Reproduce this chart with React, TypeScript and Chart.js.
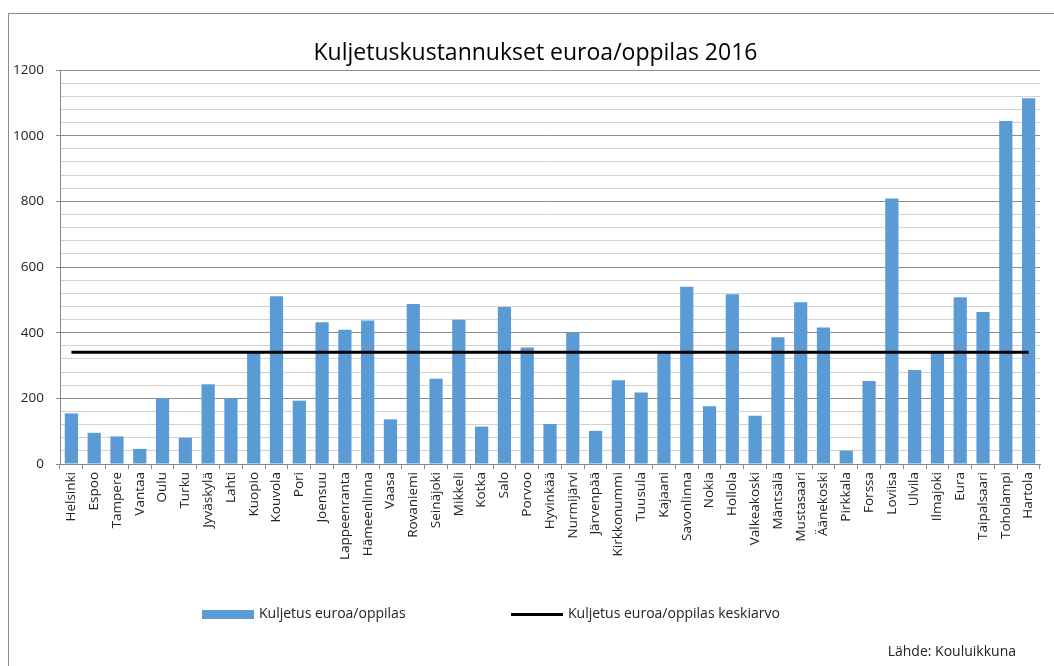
import React, { useEffect, useRef } from "react";
import { Chart, registerables } from "chart.js";

Chart.register(...registerables);

const categories: string[] = [
  "Helsinki", "Espoo", "Tampere", "Vantaa", "Oulu", "Turku", "Jyväskylä", "Lahti", "Kuopio", "Kouvola",
  "Pori", "Joensuu", "Lappeenranta", "Hämeenlinna", "Vaasa", "Rovaniemi", "Seinäjoki", "Mikkeli", "Kotka", "Salo",
  "Porvoo", "Hyvinkää", "Nurmijärvi", "Järvenpää", "Kirkkonummi", "Tuusula", "Kajaani", "Savonlinna", "Nokia", "Hollola",
  "Valkeakoski", "Mäntsälä", "Mustasaari", "Äänekoski", "Pirkkala", "Forssa", "Loviisa", "Ulvila", "Ilmajoki", "Eura",
  "Taipalsaari", "Toholampi", "Hartola",
];

const costPerPupil: number[] = [
  154, 95, 84, 46, 200, 80, 243, 200, 340, 511,
  193, 432, 409, 437, 136, 487, 260, 439, 114, 478,
  355, 122, 399, 101, 255, 218, 340, 540, 176, 517,
  147, 386, 493, 416, 41, 253, 809, 286, 340, 508,
  463, 1045, 1114,
];

const averageValue = 340;
const averageSeries: number[] = categories.map(() => averageValue);

const titleText = "Kuljetuskustannukset euroa/oppilas 2016";
const barLabel = "Kuljetus euroa/oppilas";
const lineLabel = "Kuljetus euroa/oppilas keskiarvo";
const sourceText = "Lähde: Kouluikkuna";

const yMin = 0;
const yMax = 1200;
const yMinorStep = 40;
const yMajorStep = 200;

const BAR_COLOR = "#5B9BD5";
const FONT = "'Open Sans', sans-serif";

const extrasPlugin = {
  id: "extras",
  beforeDraw(chart: any) {
    const ctx = chart.ctx;
    ctx.save();
    ctx.fillStyle = "#ffffff";
    ctx.fillRect(0, 0, chart.width, chart.height);
    ctx.strokeStyle = "#8a8a8a";
    ctx.lineWidth = 1;
    ctx.strokeRect(8.5, 13.5, chart.width + 20, chart.height + 20);
    ctx.restore();
  },
  afterDraw(chart: any) {
    const ctx = chart.ctx;
    ctx.save();
    // title
    ctx.font = `23px ${FONT}`;
    ctx.fillStyle = "#000";
    ctx.textAlign = "center";
    ctx.textBaseline = "alphabetic";
    ctx.fillText(titleText, 535.5, 60);
    // legend
    ctx.font = `14px ${FONT}`;
    ctx.textBaseline = "middle";
    ctx.textAlign = "left";
    ctx.fillStyle = BAR_COLOR;
    ctx.fillRect(202, 610, 52, 9);
    ctx.fillStyle = "#222";
    ctx.fillText(barLabel, 259, 614);
    ctx.strokeStyle = "#000";
    ctx.lineWidth = 3;
    ctx.beginPath();
    ctx.moveTo(511, 614.5);
    ctx.lineTo(563, 614.5);
    ctx.stroke();
    ctx.fillText(lineLabel, 568, 614);
    // source
    ctx.textAlign = "right";
    ctx.textBaseline = "alphabetic";
    ctx.fillText(sourceText, 1016, 656);
    ctx.restore();
  },
};

export default function App() {
  const canvasRef = useRef<HTMLCanvasElement | null>(null);

  useEffect(() => {
    if (!canvasRef.current) return;
    const chart = new Chart(canvasRef.current, {
      type: "bar",
      data: {
        labels: categories,
        datasets: [
          {
            type: "line",
            label: lineLabel,
            data: averageSeries,
            borderColor: "#000000",
            backgroundColor: "#000000",
            borderWidth: 3,
            pointRadius: 0,
            order: 0,
          } as any,
          {
            type: "bar",
            label: barLabel,
            data: costPerPupil,
            backgroundColor: BAR_COLOR,
            borderWidth: 0,
            barPercentage: 0.58,
            categoryPercentage: 1,
            order: 1,
          },
        ],
      },
      options: {
        responsive: false,
        animation: false,
        layout: { padding: { left: 0, right: 14, top: 70, bottom: 0 } },
        plugins: {
          legend: { display: false },
          tooltip: { enabled: false },
          title: { display: false },
        },
        scales: {
          x: {
            grid: {
              display: true,
              drawOnChartArea: false,
              drawTicks: true,
              tickLength: 5,
              color: "#888",
              offset: true,
            },
            border: { display: true, color: "#888" },
            ticks: {
              autoSkip: false,
              maxRotation: 90,
              minRotation: 90,
              padding: 3,
              color: "#222",
              font: { family: FONT, size: 13.5 },
            },
            afterFit: (scale: any) => {
              scale.height = 202;
            },
          },
          y: {
            min: yMin,
            max: yMax,
            grid: {
              color: (c: any) => (c.tick && c.tick.value % yMajorStep === 0 ? "#8c8c8c" : "#d2d2d2"),
              tickColor: (c: any) => (c.tick && c.tick.value % yMajorStep === 0 ? "#8c8c8c" : "rgba(0,0,0,0)"),
              tickLength: 4,
              lineWidth: 1,
            },
            border: { display: true, color: "#888" },
            ticks: {
              stepSize: yMinorStep,
              autoSkip: false,
              padding: 12,
              color: "#222",
              font: { family: FONT, size: 13.5 },
              callback: (v: any) => (Number(v) % yMajorStep === 0 ? String(v) : ""),
            },
            afterFit: (scale: any) => {
              scale.width = 60;
            },
          },
        },
      },
      plugins: [extrasPlugin],
    });
    return () => chart.destroy();
  }, []);

  return (
    <div style={{ position: "absolute", left: 0, top: 0, width: 1054, height: 666 }}>
      <canvas ref={canvasRef} width={1054} height={666} />
    </div>
  );
}
